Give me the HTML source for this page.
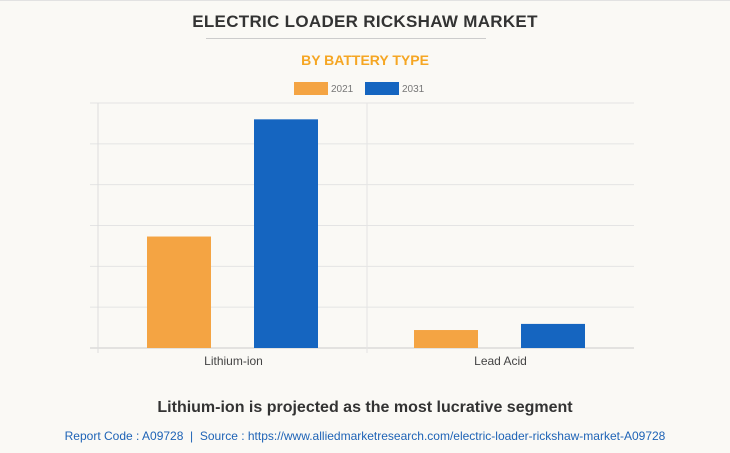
<!DOCTYPE html>
<html><head><meta charset="utf-8"><style>
body{margin:0;background:#faf9f5;font-family:"Liberation Sans",sans-serif;}
#wrap{position:relative;width:730px;height:453px;overflow:hidden;border-top:1px solid #e2e2e2;box-sizing:border-box;}
.t{position:absolute;left:0;width:730px;text-align:center;}
</style></head><body>
<div id="wrap">
<div class="t" style="top:11px;font-size:17px;font-weight:bold;color:#333;letter-spacing:0.3px">ELECTRIC LOADER RICKSHAW MARKET</div>
<div style="position:absolute;left:206px;top:37px;width:280px;height:1px;background:#ccc"></div>
<div class="t" style="top:51px;font-size:14px;font-weight:bold;color:#f5a623">BY BATTERY TYPE</div>
<svg id="chart" width="730" height="453" style="position:absolute;left:0;top:0"></svg>
<div class="t" style="top:398px;font-size:16px;font-weight:bold;color:#333">Lithium-ion is projected as the most lucrative segment</div>
<div class="t" style="top:428px;font-size:12px;color:#1e63b6">Report Code : A09728 &nbsp;|&nbsp; Source : https://www.alliedmarketresearch.com/electric-loader-rickshaw-market-A09728</div>
</div>
<script>
const categories=["Lithium-ion","Lead Acid"];
const seriesNames=["2021","2031"];
const values2021=[273,44];
const values2031=[560,59];
const colors=["#f4a443","#1565c0"];
const yTicks=[0,100,200,300,400,500,600];
const NS="http://www.w3.org/2000/svg";
const svg=document.getElementById('chart');
const x0=100,x1=634,yb=347,yt=102,yMax=600;
const y=v=>yb-(v/yMax)*(yb-yt);
const bandW=(x1-x0)/categories.length;
function mk(t,a){const e=document.createElementNS(NS,t);for(const k in a)e.setAttribute(k,a[k]);svg.appendChild(e);return e;}
yTicks.forEach(v=>{const l=mk('line',{x1:90,x2:x1,y1:y(v),y2:y(v),stroke:v===0?'#ccc':'#e4e4e4'});

});
const ax=mk('line',{x1:98,x2:98,y1:yt,y2:yb+5,stroke:'#ddd'});


const sep=mk('line',{x1:x0+bandW,x2:x0+bandW,y1:yt,y2:yb+5,stroke:'#e4e4e4'});


const series=[values2021,values2031];
categories.forEach((c,i)=>{
  const cx=x0+bandW*(i+0.5);
  series.forEach((vals,s)=>{
    const xL=cx-86.5+s*107;
    const r=mk('rect',{x:xL,y:y(vals[i]),width:64,height:yb-y(vals[i]),fill:colors[s]});
    
    
  });
  const t=mk('text',{x:cx,y:364,'text-anchor':'middle','font-size':12,fill:'#444','font-family':'Liberation Sans, sans-serif'});
  t.textContent=c;
  
  
});
const lx=[294,365];
seriesNames.forEach((n,s)=>{
  const r=mk('rect',{x:lx[s],y:81,width:34,height:13,fill:colors[s]});
  
  
  const t=mk('text',{x:lx[s]+37,y:91,'font-size':10,fill:'#777','font-family':'Liberation Sans, sans-serif'});
  t.textContent=n;
  
  
});
</script>
</body></html>
